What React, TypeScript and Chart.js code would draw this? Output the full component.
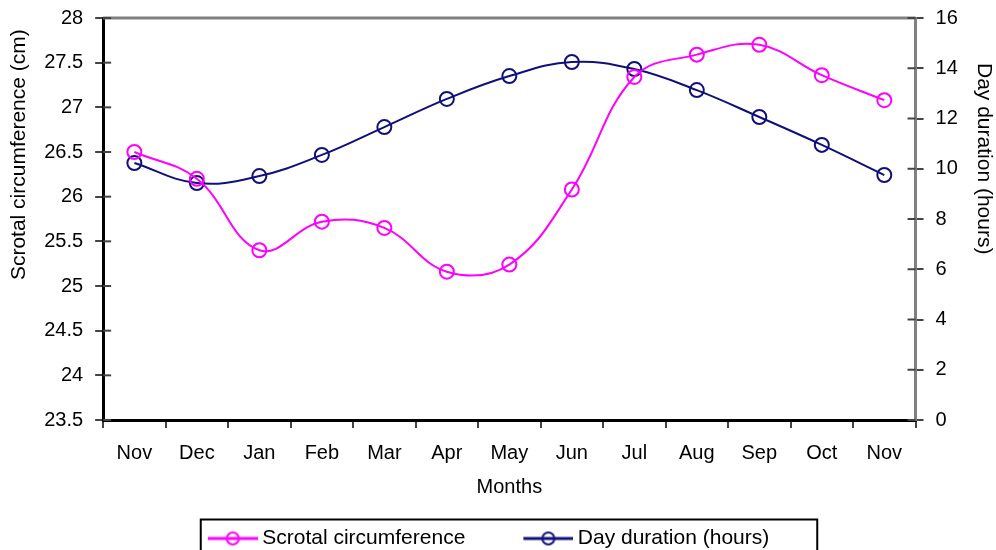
import React, { useEffect, useRef } from "react";
import { Chart, registerables } from "chart.js";

Chart.register(...registerables);

const months = ["Nov", "Dec", "Jan", "Feb", "Mar", "Apr", "May", "Jun", "Jul", "Aug", "Sep", "Oct", "Nov"];
const scrotalCircumference = [26.5, 26.2, 25.4, 25.72, 25.65, 25.16, 25.24, 26.08, 27.34, 27.59, 27.7, 27.36, 27.08];
const dayDuration = [10.23, 9.43, 9.71, 10.55, 11.66, 12.78, 13.69, 14.25, 13.97, 13.13, 12.06, 10.95, 9.75];

const leftMin = 23.5;
const leftMax = 28;
const leftStep = 0.5;
const rightMin = 0;
const rightMax = 16;
const rightStep = 2;

const leftTitle = "Scrotal circumference (cm)";
const rightTitle = "Day duration (hours)";

const PINK = "#ff00ff";
const NAVY = "#10107a";
const FONT = "'Liberation Sans', Arial, sans-serif";

// legend geometry
const LEG_FONT = 21;
const LEG_PAD = 10;
const ICON_BOX = 92;
const ICON_OVER = 6;
const ICON_LINE = 50;
const LEGEND_SHIFT = -37;
const TITLE_FONT = 21;
const LEFT_TITLE_CENTER_FRAC = 0.34;
const RIGHT_TITLE_CENTER_FRAC = 0.35;

function legendIcon(color: string): HTMLCanvasElement {
  const c = document.createElement("canvas");
  const w = ICON_BOX + 2 * ICON_OVER;
  c.width = w;
  c.height = 20;
  const ctx = c.getContext("2d")!;
  ctx.strokeStyle = color;
  ctx.lineWidth = 3;
  ctx.beginPath();
  ctx.moveTo(w - ICON_LINE, 10);
  ctx.lineTo(w, 10);
  ctx.stroke();
  ctx.lineWidth = 2;
  ctx.beginPath();
  ctx.arc(w - ICON_LINE / 2, 10, 6, 0, Math.PI * 2);
  ctx.stroke();
  return c;
}

const framePlugin = {
  id: "framePlugin",
  afterLayout(chart: any) {
    const lg = chart.legend;
    if (lg) {
      lg.left += LEGEND_SHIFT;
      lg.right += LEGEND_SHIFT;
    }
  },
  afterDraw(chart: any) {
    const { ctx, chartArea } = chart;
    ctx.save();
    // top frame line
    ctx.strokeStyle = "#808080";
    ctx.lineWidth = 3;
    ctx.beginPath();
    ctx.moveTo(chartArea.left, chartArea.top);
    ctx.lineTo(chartArea.right, chartArea.top);
    ctx.stroke();
    // inner halves of the y tick marks (ticks cross the axis)
    const ys = chart.scales.y;
    const y1 = chart.scales.y1;
    ctx.lineWidth = 2;
    ctx.strokeStyle = "#444";
    ys.ticks.forEach((_t: any, i: number) => {
      const py = ys.getPixelForTick(i);
      ctx.beginPath();
      ctx.moveTo(chartArea.left, py);
      ctx.lineTo(chartArea.left + 8, py);
      ctx.stroke();
    });
    y1.ticks.forEach((_t: any, i: number) => {
      const py = y1.getPixelForTick(i);
      ctx.beginPath();
      ctx.moveTo(chartArea.right - 8, py);
      ctx.lineTo(chartArea.right, py);
      ctx.stroke();
    });
    // axis titles
    const h = chartArea.bottom - chartArea.top;
    ctx.fillStyle = "#000";
    ctx.font = `${TITLE_FONT}px ${FONT}`;
    ctx.textAlign = "center";
    ctx.textBaseline = "middle";
    ctx.translate(ys.left + (TITLE_FONT * 1.2) / 2, chartArea.top + h * LEFT_TITLE_CENTER_FRAC);
    ctx.rotate(-Math.PI / 2);
    ctx.fillText(leftTitle, 0, 0);
    ctx.setTransform(1, 0, 0, 1, 0, 0);
    ctx.translate(y1.right - (TITLE_FONT * 1.2) / 2, chartArea.top + h * RIGHT_TITLE_CENTER_FRAC);
    ctx.rotate(Math.PI / 2);
    ctx.fillText(rightTitle, 0, 0);
    ctx.setTransform(1, 0, 0, 1, 0, 0);
    // legend frame
    const lg = chart.legend;
    if (lg && lg.lineWidths) {
      const lw = lg.lineWidths[0];
      const cx = (lg.left + LEG_PAD + lg.right - lw) / 2;
      const lineStart = cx + ICON_BOX + ICON_OVER - ICON_LINE;
      const textEnd = cx + lw - LEG_PAD;
      const cy = lg.top + LEG_PAD + LEG_FONT / 2;
      const bl = lineStart - 7;
      const br = textEnd + 48;
      ctx.strokeStyle = "#000";
      ctx.lineWidth = 2;
      ctx.strokeRect(bl, cy - 19, br - bl, chart.height - cy + 40);
    }
    ctx.restore();
  },
};

export default function App() {
  const ref = useRef<HTMLCanvasElement | null>(null);
  useEffect(() => {
    document.body.style.margin = "0";
    const canvas = ref.current!;
    const chart = new Chart(canvas, {
      type: "line",
      data: {
        labels: months,
        datasets: [
          {
            label: "Scrotal circumference",
            data: scrotalCircumference,
            yAxisID: "y",
            borderColor: PINK,
            backgroundColor: "rgba(0,0,0,0)",
            borderWidth: 2,
            pointRadius: 7,
            pointBorderWidth: 2,
            pointBorderColor: PINK,
            pointBackgroundColor: "rgba(0,0,0,0)",
            tension: 0.4,
          },
          {
            label: "Day duration (hours)",
            data: dayDuration,
            yAxisID: "y1",
            borderColor: NAVY,
            backgroundColor: "rgba(0,0,0,0)",
            borderWidth: 2,
            pointRadius: 7,
            pointBorderWidth: 2,
            pointBorderColor: NAVY,
            pointBackgroundColor: "rgba(0,0,0,0)",
            tension: 0.4,
          },
        ],
      },
      options: {
        responsive: false,
        animation: false,
        layout: { padding: { left: 7, right: 0, top: 0, bottom: -9 } },
        elements: { point: { pointStyle: "circle" } },
        plugins: {
          tooltip: { enabled: false },
          legend: {
            position: "bottom",
            labels: {
              usePointStyle: true,
              pointStyleWidth: ICON_BOX,
              padding: LEG_PAD,
              color: "#000",
              font: { family: FONT, size: LEG_FONT },
              generateLabels: (ch: any) =>
                ch.data.datasets.map((ds: any, i: number) => ({
                  text: ds.label,
                  pointStyle: legendIcon(ds.borderColor),
                  fillStyle: ds.borderColor,
                  strokeStyle: ds.borderColor,
                  lineWidth: 0,
                  hidden: false,
                  datasetIndex: i,
                  fontColor: "#000",
                })),
            },
          },
        },
        scales: {
          x: {
            offset: true,
            grid: { drawOnChartArea: false, tickLength: 8, color: "#444", lineWidth: 2, offset: true },
            border: { color: "#000", width: 3 },
            ticks: { color: "#000", padding: 13, font: { family: FONT, size: 20 }, autoSkip: false, maxRotation: 0 },
            title: { display: true, text: "Months", color: "#000", font: { family: FONT, size: 20 }, padding: { top: -3, bottom: 19 } },
          },
          y: {
            position: "left",
            min: leftMin,
            max: leftMax,
            ticks: {
              stepSize: leftStep,
              color: "#000",
              padding: 12,
              font: { family: FONT, size: 20, lineHeight: 0.6 },
              callback: (v: any) => String(Math.round(Number(v) * 10) / 10),
            },
            grid: { drawOnChartArea: false, tickLength: 8, color: "#444", lineWidth: 2 },
            border: { color: "#000", width: 3 },
            title: { display: true, text: leftTitle, align: "end", color: "rgba(0,0,0,0)", font: { family: FONT, size: TITLE_FONT }, padding: { top: 0, bottom: 0 } },
          },
          y1: {
            position: "right",
            min: rightMin,
            max: rightMax,
            ticks: {
              stepSize: rightStep,
              color: "#000",
              padding: 12,
              font: { family: FONT, size: 20, lineHeight: 0.6 },
              callback: (v: any) => String(v),
            },
            grid: { drawOnChartArea: false, tickLength: 8, color: "#444", lineWidth: 2 },
            border: { color: "#808080", width: 3 },
            title: { display: true, text: rightTitle, align: "end", color: "rgba(0,0,0,0)", font: { family: FONT, size: TITLE_FONT }, padding: { top: 0, bottom: 1 } },
          },
        },
      } as any,
      plugins: [framePlugin],
    });
    return () => chart.destroy();
  }, []);
  return (
    <div style={{ width: 996, height: 550 }}>
      <canvas ref={ref} width={996} height={550} style={{ display: "block" }} />
    </div>
  );
}
